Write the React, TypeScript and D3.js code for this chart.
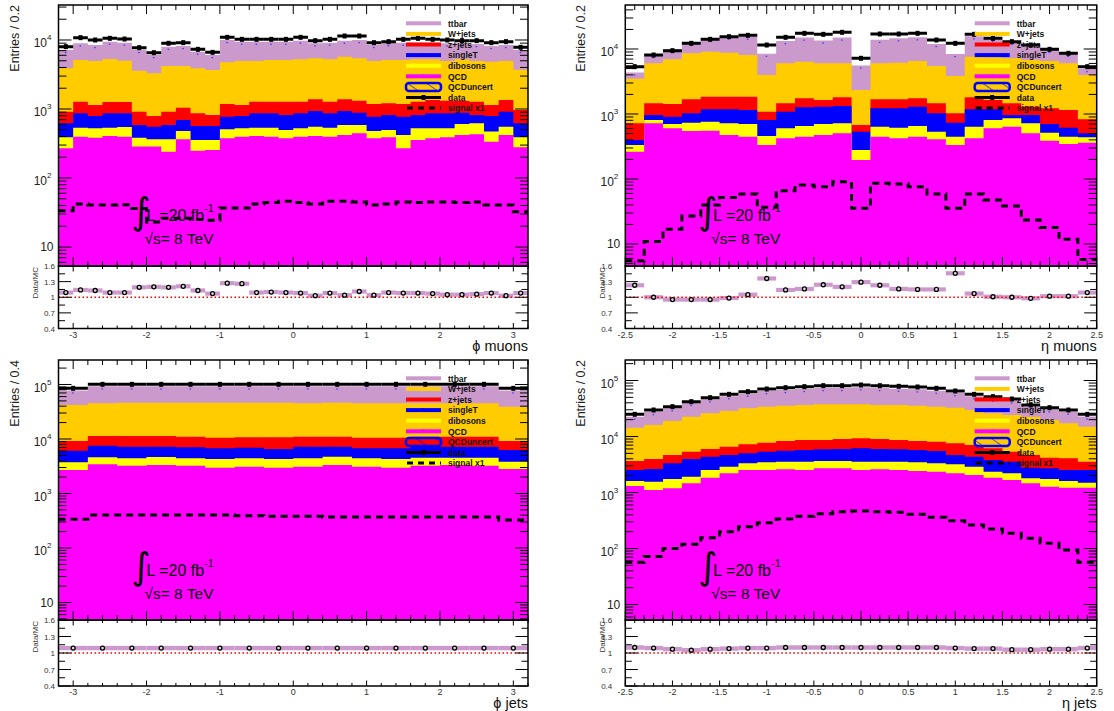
import React from "react";
import * as d3 from "d3";

const FONT = "'Liberation Sans', Arial, Helvetica, sans-serif";

// ---------------- Top-left: phi muons (32 bins, -3.2 .. 3.2) ----------------
const tlQCD = [269,397,384,406,397,285,285,241,363,249,255,376,397,406,397,376,397,406,397,420,444,376,388,269,355,376,388,420,429,336,420,280];
const tlDibosons = [119,139,141,130,151,99,78,122,117,106,100,131,128,130,139,120,128,149,139,167,143,104,108,151,170,149,137,186,191,134,135,108];
const tlSingleT = [232,329,267,329,317,203,192,224,213,212,212,267,267,329,329,323,340,380,329,348,298,294,323,354,294,340,340,279,199,322,360,232];
const tlZjets = [295,412,351,398,398,328,237,328,352,298,252,408,351,412,412,458,412,446,412,446,435,408,389,408,458,485,455,421,458,351,435,347];
const tlWjets = [2970,3853,3819,4042,3754,2679,2496,3285,3155,3020,2856,3564,3819,3685,3853,3853,3968,4044,3968,4354,4105,3780,3922,3948,3968,3895,3642,3939,3685,3710,3612,2733];
const tlTtbar = [3275,3820,3498,4155,4133,3566,2772,3810,3985,2895,2385,5254,4498,4498,4330,4330,4535,3525,3905,4045,4575,3498,3820,4020,3905,3905,3988,3705,3788,3332,3498,3460];
const tlData = [8010,10810,10000,10570,10330,7740,6550,8950,9150,7320,6620,10930,10220,10220,10220,10220,10930,9780,10220,11430,11430,9150,9460,10220,10570,10220,10000,9780,9780,9150,9460,7830];
const tlSignal = [33.6,42,40.6,40.6,41,36,23,26,26,25,24.5,36.7,36.7,42,44,46,44,42,46,46,45,40.6,42,45,44,45,45,44,45,40.6,40.6,32.5];
const tlRatio = [1.09,1.14,1.13,1.09,1.09,1.19,1.2,1.19,1.21,1.13,1.07,1.27,1.26,1.09,1.1,1.09,1.08,1.03,1.08,1.04,1.11,1.04,1.09,1.08,1.08,1.07,1.05,1.05,1.06,1.08,1.03,1.08];

// ---------------- Top-right: eta muons (25 bins, -2.5 .. 2.5) ----------------
const trQCD = [263,719,602,548,554,475,448,334,422,448,475,504,196,448,422,448,408,334,422,602,638,504,389,345,362];
const trDibosons = [71,89,100,188,208,244,254,125,180,206,227,215,83,190,194,206,127,114,216,206,220,215,127,103,76];
const trSingleT = [64,157,208,288,418,461,450,349,484,612,595,609,256,585,607,643,489,288,542,372,107,246,186,168,66];
const trZjets = [321,494,515,657,668,668,696,278,373,476,345,477,142,458,458,445,435,288,625,462,494,332,521,536,324];
const trWjets = [2781,4561,5505,6899,7252,6932,6232,2894,4561,4643,4378,4215,1663,4339,4479,4798,4016,2816,5815,5798,5731,5473,5317,4868,3152];
const trTtbar = [850,2060,2940,4220,5640,6920,7380,4490,7240,8635,7540,9020,3230,7810,8500,8610,6485,4530,8090,7010,5780,4980,3150,2390,930];
const trData = [5350,8080,9430,12220,14080,15470,16230,11520,15120,17420,16810,18050,7190,17010,17010,17420,13750,12220,16810,14590,12970,11520,9880,8580,5350];
const trSignal = [5.5,10.9,16.8,27,39.8,52,58.7,36.7,66,81,76,91,35.4,86,84,76,58.7,35.4,58.7,47.5,38.5,23.4,18,11.8,5.8];
const trRatio = [1.23,1.0,0.955,0.955,0.955,0.985,1.05,1.36,1.14,1.16,1.24,1.2,1.29,1.23,1.16,1.15,1.15,1.46,1.07,1.01,1.0,0.98,1.02,1.02,1.09];

// ---------------- Bottom-left: phi jets (16 bins, -3.2 .. 3.2) ----------------
const blQCD = [2699,3429,3241,3334,3241,2979,3108,2979,3108,3334,3108,2979,3241,3334,3241,2815];
const blDibosons = [1033,1182,1178,1342,1178,1318,1311,1318,1311,1409,1311,1318,1305,1212,1305,1024];
const blSingleT = [2378,2934,2816,2559,2616,2448,2516,2258,2816,2492,2326,2448,2689,2689,2689,2446];
const blZjets = [3080,3805,4115,4115,4005,3835,3795,4175,3805,3805,3835,3835,3805,3805,3805,2905];
const blWjets = [32870,33780,35070,35070,35380,35840,35690,35690,34090,35380,34550,34550,34090,34090,34090,30020];
const blTtbar = [35940,47270,45980,45980,45980,45980,45980,45980,47270,45980,47270,47270,47270,47270,47270,38790];
const blData = [85050,100700,100700,100700,100700,100700,100700,100700,100700,100700,100700,100700,100700,100700,100700,85050];
const blSignal = [336,403,403,405,405,405,392,381,381,372,372,372,372,372,372,327];
const blRatio = [1.09,1.09,1.09,1.09,1.09,1.09,1.09,1.09,1.09,1.09,1.09,1.09,1.09,1.09,1.09,1.09];

// ---------------- Bottom-right: eta jets (25 bins, -2.5 .. 2.5) ----------------
const brQCD = [1307,1108,1187,1458,1840,2199,2523,2523,2593,2523,2702,2702,2523,2593,2523,2421,2356,2199,2054,1840,1672,1458,1272,1220,1220];
const brDibosons = [298,453,555,460,683,694,795,934,960,1030,950,950,1030,960,1030,1036,962,985,839,516,527,333,470,385,278];
const brSingleT = [918,1067,1576,2048,1841,1780,1686,1903,2033,2188,2248,2329,2594,2428,2347,2284,2192,1489,1471,1449,1354,986,960,918,1025];
const brZjets = [1129,1338,1355,1394,1617,1910,2243,2402,2727,2919,2760,3044,3128,3044,2760,2572,2577,2878,2687,2342,1807,1896,1486,1552,1030];
const brWjets = [10728,12084,14237,17250,19949,21947,24593,26348,27217,27860,28870,28505,28255,27495,27860,27217,26023,25169,22679,19783,18850,17937,15512,13115,11427];
const brTtbar = [8240,11230,12970,17290,20220,23900,26130,30590,32190,34030,35970,35970,38020,36980,34990,34070,31780,26880,22700,21710,19880,11840,10880,10600,7850];
const brData = [24880,29730,34110,41890,49380,56620,63190,70520,74490,77600,80850,80850,83100,80850,78660,76560,72480,64960,56620,51450,46740,36520,32720,29730,24880];
const brSignal = [57,72,100,119,156,200,245,289,336,376,419,454,468,454,443,408,361,314,263,223,187,152,124,94,57];
const brRatio = [1.1,1.09,1.07,1.05,1.07,1.08,1.09,1.09,1.1,1.1,1.1,1.1,1.1,1.1,1.1,1.1,1.1,1.09,1.08,1.08,1.06,1.06,1.07,1.07,1.09];

const processKeys = ["qcd", "dibosons", "singleT", "zjets", "wjets", "ttbar"];
const processColors: Record<string, string> = {
  ttbar: "#cc99cc",
  wjets: "#ffcc00",
  zjets: "#ff0000",
  singleT: "#0000ff",
  dibosons: "#ffff00",
  qcd: "#ff00ff",
};

const legendEntries = [
  { label: "ttbar", key: "ttbar" },
  { label: "W+jets", key: "wjets" },
  { label: "z+jets", key: "zjets" },
  { label: "singleT", key: "singleT", marker: true },
  { label: "dibosons", key: "dibosons" },
  { label: "QCD", key: "qcd", marker: true },
  { label: "QCDuncert", key: "uncert" },
  { label: "data", key: "data" },
  { label: "signal x1", key: "signal" },
];

const ratioTickValues = [0.4, 0.55, 0.7, 0.85, 1.0, 1.15, 1.3, 1.45, 1.6];
const ratioLabels = [
  { v: 1.6, t: "1.6" },
  { v: 1.3, t: "1.3" },
  { v: 1.0, t: "1" },
  { v: 0.7, t: "0.7" },
  { v: 0.4, t: "0.4" },
];

const panels = [
  {
    id: "tl", x0: 58.5, x1: 528, top: 5, mainBottom: 266, ratioBottom: 328.5,
    xMin: -3.2, xMax: 3.2, majorStep: 1, minorStep: 0.2, ratioLabelGap: 3.5,
    yMin: Math.pow(10, 0.7246), yMax: Math.pow(10, 4.5072),
    yTitle: "Entries / 0.2", xTitle: "ϕ muons", uncertFill: "#ffcc00",
    procs: { qcd: tlQCD, dibosons: tlDibosons, singleT: tlSingleT, zjets: tlZjets, wjets: tlWjets, ttbar: tlTtbar },
    data: tlData, signal: tlSignal, ratio: tlRatio,
  },
  {
    id: "tr", x0: 625.3, x1: 1096.7, top: 5, mainBottom: 266, ratioBottom: 328.5,
    xMin: -2.5, xMax: 2.5, majorStep: 0.5, minorStep: 0.1, ratioLabelGap: 13,
    yMin: Math.pow(10, 0.6615), yMax: Math.pow(10, 4.6769),
    yTitle: "Entries / 0.2", xTitle: "η muons", uncertFill: "#ffcc00",
    procs: { qcd: trQCD, dibosons: trDibosons, singleT: trSingleT, zjets: trZjets, wjets: trWjets, ttbar: trTtbar },
    data: trData, signal: trSignal, ratio: trRatio,
  },
  {
    id: "bl", x0: 58.5, x1: 528, top: 360, mainBottom: 620, ratioBottom: 686,
    xMin: -3.2, xMax: 3.2, majorStep: 1, minorStep: 0.2, ratioLabelGap: 3.5,
    yMin: Math.pow(10, 0.6789), yMax: Math.pow(10, 5.4495),
    yTitle: "Entries / 0.4", xTitle: "ϕ jets", uncertFill: "#ff0000",
    procs: { qcd: blQCD, dibosons: blDibosons, singleT: blSingleT, zjets: blZjets, wjets: blWjets, ttbar: blTtbar },
    data: blData, signal: blSignal, ratio: blRatio,
  },
  {
    id: "br", x0: 625.3, x1: 1096.7, top: 360, mainBottom: 620, ratioBottom: 686,
    xMin: -2.5, xMax: 2.5, majorStep: 0.5, minorStep: 0.1, ratioLabelGap: 13,
    yMin: Math.pow(10, 0.7232), yMax: Math.pow(10, 5.3661),
    yTitle: "Entries / 0.2", xTitle: "η jets", uncertFill: "#ffcc00",
    procs: { qcd: brQCD, dibosons: brDibosons, singleT: brSingleT, zjets: brZjets, wjets: brWjets, ttbar: brTtbar },
    data: brData, signal: brSignal, ratio: brRatio,
  },
];

function fmtX(v: number) {
  const r = Math.round(v * 10) / 10;
  return String(r === 0 ? 0 : r);
}

function Panel({ p }: { p: any }) {
  const n = p.data.length;
  const x = d3.scaleLinear().domain([p.xMin, p.xMax]).range([p.x0, p.x1]);
  const y = d3.scaleLog().domain([p.yMin, p.yMax]).range([p.mainBottom, p.top]).clamp(true);
  const yr = d3.scaleLinear().domain([0.4, 1.6]).range([p.ratioBottom, p.mainBottom]);
  const binW = (p.xMax - p.xMin) / n;
  const edges = d3.range(n + 1).map((i) => p.xMin + i * binW);

  const rows = d3.range(n).map((i) => {
    const r: any = {};
    processKeys.forEach((k) => (r[k] = p.procs[k][i]));
    return r;
  });
  const stacked = d3.stack<any>().keys(processKeys)(rows);
  const stepPts = (vals: number[]) => edges.map((e, i) => [e, vals[Math.min(i, n - 1)]] as [number, number]);
  const area = d3
    .area<[number, number]>()
    .x((d) => x(d[0]))
    .y0(p.mainBottom)
    .y1((d) => y(Math.max(d[1], p.yMin)))
    .curve(d3.curveStepAfter);
  const line = d3
    .line<[number, number]>()
    .x((d) => x(d[0]))
    .y((d) => y(Math.max(d[1], p.yMin)))
    .curve(d3.curveStepAfter);
  const layers = stacked
    .map((s) => ({ key: s.key, d: area(stepPts(s.map((b) => b[1]))) as string }))
    .reverse();
  const totals = stacked[stacked.length - 1].map((b) => b[1]);

  const logTicks: { v: number; major: boolean; exp: number }[] = [];
  const dLo = Math.floor(Math.log10(p.yMin));
  const dHi = Math.ceil(Math.log10(p.yMax));
  for (let d = dLo; d <= dHi; d++) {
    for (let k = 1; k <= 9; k++) {
      const v = k * Math.pow(10, d);
      if (v >= p.yMin && v <= p.yMax) logTicks.push({ v, major: k === 1, exp: d });
    }
  }

  const nMinor = Math.round((p.xMax - p.xMin) / p.minorStep);
  const xTicks = d3.range(nMinor + 1).map((i) => {
    const v = p.xMin + i * p.minorStep;
    const q = v / p.majorStep;
    return { v, major: Math.abs(q - Math.round(q)) < 1e-6 };
  });

  const clipId = `clip-${p.id}`;
  const hatchId = `hatch-${p.id}`;
  const lx0 = p.x1 - 122;
  const lx1 = p.x1 - 87;
  const tx = p.x1 - 80;
  const lumX = p.x0 + 88;

  return (
    <g>
      <defs>
        <clipPath id={clipId}>
          <rect x={p.x0} y={p.top} width={p.x1 - p.x0} height={p.mainBottom - p.top} />
        </clipPath>
        <pattern id={hatchId} patternUnits="userSpaceOnUse" width={11} height={11} patternTransform="rotate(-55)">
          <rect width={11} height={11} fill={p.uncertFill} />
          <line x1={0} y1={0} x2={0} y2={11} stroke="#0000ff" strokeWidth={1.2} />
        </pattern>
      </defs>

      <g clipPath={`url(#${clipId})`}>
        {layers.map((l) => (
          <path key={l.key} d={l.d} fill={processColors[l.key]} stroke="none" />
        ))}
        {totals.map((t, i) => (
          <rect key={`u${i}`} x={x(edges[i] + binW / 2) - 1} y={y(t) + 2} width={1.5} height={1.2} fill="#3333ff" />
        ))}
        <path d={line(stepPts(p.signal)) as string} fill="none" stroke="#000" strokeWidth={3} strokeDasharray="7,5" />
        {p.data.map((v: number, i: number) => {
          const yy = y(v);
          const xa = x(edges[i]);
          const xb = x(edges[i + 1]);
          const xc = (xa + xb) / 2;
          return (
            <g key={`d${i}`}>
              <line x1={xa} x2={xb} y1={yy} y2={yy} stroke="#000" strokeWidth={3} />
              <rect x={xc - 2} y={yy - 2.5} width={4} height={5} fill="#000" />
            </g>
          );
        })}
      </g>

      {/* luminosity label */}
      <text x={p.x0 + 73} y={p.top + 219} fontSize={37} fontFamily="'DejaVu Sans', sans-serif" fill="#000">∫</text>
      <text x={lumX} y={p.top + 216} fontSize={16} fill="#000">
        L =20 fb<tspan dy={-9} fontSize={11}>-1</tspan>
      </text>
      <text x={lumX - 2} y={p.top + 239} fontSize={15.5} fill="#000">√s= 8 TeV</text>

      {/* legend */}
      {legendEntries.map((e, i) => {
        const cy = p.top + 18.3 + i * 10.6;
        let sample: any = null;
        if (processColors[e.key]) {
          const c = processColors[e.key];
          sample = (
            <g>
              <rect x={lx0} y={cy - 2} width={lx1 - lx0} height={4} fill={c} />
              {e.marker ? <circle cx={(lx0 + lx1) / 2} cy={cy} r={2} fill={c} /> : null}
            </g>
          );
        } else if (e.key === "uncert") {
          sample = (
            <rect x={lx0} y={cy - 4} width={lx1 - lx0} height={8} rx={3} fill={`url(#${hatchId})`} stroke="#0000ff" strokeWidth={2.5} />
          );
        } else if (e.key === "data") {
          sample = (
            <g>
              <line x1={lx0} x2={lx1} y1={cy} y2={cy} stroke="#000" strokeWidth={3} />
              <rect x={(lx0 + lx1) / 2 - 2} y={cy - 2.5} width={4} height={5} fill="#000" />
            </g>
          );
        } else {
          sample = <line x1={lx0 + 1} x2={lx1} y1={cy} y2={cy} stroke="#000" strokeWidth={3} strokeDasharray="6,5" />;
        }
        return (
          <g key={e.label}>
            {sample}
            <text x={tx} y={cy + 3.2} fontSize={8.5} fontWeight="bold" fill="#111">
              {e.label}
            </text>
          </g>
        );
      })}

      {/* main frame & axes */}
      <rect x={p.x0} y={p.top} width={p.x1 - p.x0} height={p.mainBottom - p.top} fill="none" stroke="#000" strokeWidth={1.5} />
      {logTicks.map((t, i) => {
        const yy = y(t.v);
        const len = t.major ? 13 : 8;
        return (
          <g key={`lt${i}`}>
            <line x1={p.x0} x2={p.x0 + len} y1={yy} y2={yy} stroke="#000" strokeWidth={1} />
            <line x1={p.x1} x2={p.x1 - len} y1={yy} y2={yy} stroke="#000" strokeWidth={1} />
            {t.major ? (
              t.exp === 1 ? (
                <text x={p.x0 - 5} y={yy + 4.3} fontSize={12} textAnchor="end" fill="#222">10</text>
              ) : (
                <text x={p.x0 - 7} y={yy + 7.5} fontSize={12} textAnchor="end" fill="#222">
                  10<tspan dy={-7} fontSize={8}>{t.exp}</tspan>
                </text>
              )
            ) : null}
          </g>
        );
      })}
      {xTicks.map((t, i) => {
        const xx = x(t.v);
        const len = t.major ? 9 : 5;
        return (
          <g key={`xt${i}`}>
            <line x1={xx} x2={xx} y1={p.top} y2={p.top + len} stroke="#000" strokeWidth={1} />
            <line x1={xx} x2={xx} y1={p.mainBottom} y2={p.mainBottom - len} stroke="#000" strokeWidth={1} />
          </g>
        );
      })}
      <text
        transform={`translate(${p.x0 - 40},${p.top}) rotate(-90)`}
        fontSize={12.5}
        textAnchor="end"
        fill="#222"
      >
        {p.yTitle}
      </text>

      {/* ratio panel */}
      {p.ratio.map((r: number, i: number) => {
        const xa = x(edges[i]);
        const xb = x(edges[i + 1]);
        const ya = yr(r + 0.04);
        const yb = yr(r - 0.04);
        return <rect key={`rb${i}`} x={xa} y={ya} width={xb - xa} height={yb - ya} fill="#cc99cc" />;
      })}
      <line x1={p.x0} x2={p.x1} y1={yr(1)} y2={yr(1)} stroke="#ff0000" strokeWidth={1.6} strokeDasharray="1.6,2.4" />
      {p.ratio.map((r: number, i: number) => {
        const xc = x(edges[i] + binW / 2);
        return <circle key={`rp${i}`} cx={xc} cy={yr(r)} r={2} fill="#ddd" stroke="#000" strokeWidth={1.3} />;
      })}
      <rect x={p.x0} y={p.mainBottom} width={p.x1 - p.x0} height={p.ratioBottom - p.mainBottom} fill="none" stroke="#000" strokeWidth={1.5} />
      {ratioTickValues.map((v, i) => {
        const yy = yr(v);
        const major = i % 2 === 0;
        const len = major ? 12.5 : 6.5;
        return (
          <g key={`rt${i}`}>
            <line x1={p.x0} x2={p.x0 + len} y1={yy} y2={yy} stroke="#000" strokeWidth={1} />
            <line x1={p.x1} x2={p.x1 - len} y1={yy} y2={yy} stroke="#000" strokeWidth={1} />
          </g>
        );
      })}
      {ratioLabels.map((l) => (
        <text key={l.t} x={p.x0 - p.ratioLabelGap} y={yr(l.v) + 3} fontSize={8} textAnchor="end" fill="#333">
          {l.t}
        </text>
      ))}
      {xTicks.map((t, i) => {
        const xx = x(t.v);
        const len = t.major ? 5.5 : 3;
        return (
          <g key={`rxt${i}`}>
            <line x1={xx} x2={xx} y1={p.ratioBottom} y2={p.ratioBottom - len} stroke="#000" strokeWidth={1} />
            <line x1={xx} x2={xx} y1={p.mainBottom} y2={p.mainBottom + len} stroke="#000" strokeWidth={1} />
            {t.major ? (
              <text x={xx} y={p.ratioBottom + 9} fontSize={9} textAnchor="middle" fill="#333">
                {fmtX(t.v)}
              </text>
            ) : null}
          </g>
        );
      })}
      <text
        transform={`translate(${p.x0 - 20.5},${p.mainBottom + 1}) rotate(-90)`}
        fontSize={8}
        textAnchor="end"
        fill="#333"
      >
        Data/MC
      </text>
      <text x={p.x1} y={p.ratioBottom + 22} fontSize={14.5} textAnchor="end" fill="#111">
        {p.xTitle}
      </text>
    </g>
  );
}

export default function App() {
  return (
    <svg
      width={1114}
      height={711}
      viewBox="0 0 1114 711"
      style={{ position: "absolute", left: 0, top: 0, background: "#ffffff" }}
      fontFamily={FONT}
    >
      <rect x={0} y={0} width={1114} height={711} fill="#ffffff" />
      {panels.map((p) => (
        <Panel key={p.id} p={p} />
      ))}
    </svg>
  );
}
